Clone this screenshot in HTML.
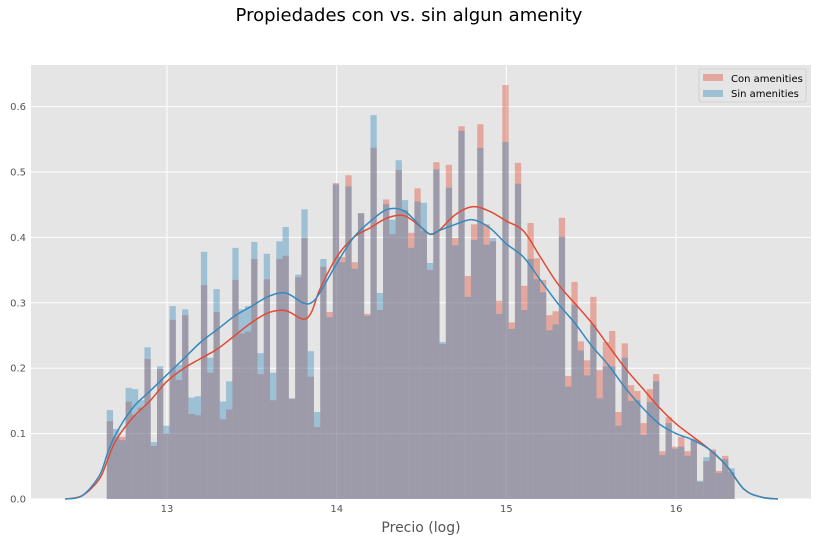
<!DOCTYPE html>
<html><head><meta charset="utf-8"><style>
body{margin:0;background:#fff;}
svg text{font-family:"DejaVu Sans","Liberation Sans",sans-serif;}
</style></head><body>
<svg id="chart" width="818" height="541" xmlns="http://www.w3.org/2000/svg">
<text x="409" y="21" text-anchor="middle" font-size="18" fill="#000">Propiedades con vs. sin algun amenity</text>
<rect x="31" y="65" width="780" height="434" fill="#E5E5E5"/>
<g id="grid"></g>
<g id="bars"></g>
<g id="lines"></g>
<g id="ticks"></g>
<text x="421" y="532" text-anchor="middle" font-size="14" fill="#555">Precio (log)</text>
<g>
<rect x="699" y="69" width="107" height="33" fill="#E5E5E5" stroke="#ccc" stroke-width="0.8" rx="2"/>
<rect x="703" y="74" width="20" height="7" fill="#E24A33" fill-opacity="0.4"/>
<text x="731" y="82" font-size="10" fill="#000">Con amenities</text>
<rect x="703" y="90" width="20" height="7" fill="#348ABD" fill-opacity="0.4"/>
<text x="731" y="97" font-size="10" fill="#000">Sin amenities</text>
</g>
</svg>
<script>
const binStart = 12.645;
const binWidth = 0.037;
const conValues = [.119,.095,.095,.149,.129,.140,.214,.081,.199,.100,
.274,.182,.281,.130,.128,.327,.193,.286,.122,.137,
.335,.253,.256,.367,.191,.336,.151,.367,.372,.153,
.339,.399,.187,.110,.355,.286,.483,.370,.495,.362,
.437,.283,.537,.289,.458,.405,.503,.442,.407,.475,
.410,.350,.515,.237,.511,.399,.570,.341,.420,.573,
.420,.394,.303,.633,.270,.514,.326,.422,.368,.335,
.281,.287,.430,.188,.332,.241,.212,.309,.197,.240,
.257,.133,.238,.174,.165,.116,.168,.191,.073,.125,
.080,.095,.073,.090,.026,.058,.076,.043,.066,.041];
const sinValues = [.136,.107,.090,.170,.168,.151,.232,.087,.203,.112,
.295,.205,.290,.155,.157,.378,.216,.321,.149,.180,
.384,.290,.295,.393,.223,.375,.193,.394,.416,.154,
.343,.443,.226,.133,.367,.278,.481,.362,.478,.352,
.437,.280,.587,.315,.451,.427,.518,.457,.384,.455,
.453,.361,.504,.240,.476,.388,.563,.309,.396,.537,
.389,.399,.283,.546,.260,.482,.289,.367,.336,.316,
.258,.267,.401,.172,.297,.227,.189,.267,.154,.203,
.203,.112,.216,.150,.151,.098,.148,.180,.067,.116,
.077,.080,.066,.092,.028,.064,.073,.040,.061,.047];
const kdeX = [12.4,12.5,12.6,12.65,12.7,12.8,12.9,13.0,13.1,13.2,13.3,13.4,13.5,13.6,13.7,13.8,13.85,13.9,14.0,14.1,14.2,14.3,14.4,14.5,14.55,14.6,14.7,14.8,14.9,15.0,15.1,15.2,15.3,15.4,15.5,15.6,15.7,15.8,15.9,16.0,16.1,16.2,16.3,16.4,16.5,16.6];
const kdeCon = [0,.005,.03,.06,.09,.125,.15,.18,.20,.215,.23,.25,.27,.285,.288,.275,.285,.32,.37,.40,.415,.43,.433,.415,.405,.41,.435,.447,.44,.425,.41,.37,.33,.30,.27,.235,.20,.17,.14,.115,.095,.075,.05,.015,.003,0];
const kdeSin = [0,.005,.035,.07,.10,.14,.165,.19,.215,.24,.26,.28,.295,.31,.315,.30,.30,.315,.36,.40,.425,.443,.44,.415,.405,.41,.42,.427,.415,.39,.37,.335,.30,.27,.235,.205,.17,.14,.115,.10,.09,.075,.05,.015,.003,0];
const xTicks = [13,14,15,16];
const yTicks = [0,0.1,0.2,0.3,0.4,0.5,0.6];
const yTickLabels = ["0.0","0.1","0.2","0.3","0.4","0.5","0.6"];

const NS="http://www.w3.org/2000/svg";
function xs(v){return 167+(v-13)*169.7;}
function ys(v){return 499-v*654;}
function mk(tag,attrs,parent){const e=document.createElementNS(NS,tag);for(const k in attrs)e.setAttribute(k,attrs[k]);parent.appendChild(e);return e;}
const grid=document.getElementById('grid'),bars=document.getElementById('bars'),lines=document.getElementById('lines'),ticks=document.getElementById('ticks');
xTicks.forEach(t=>{
  const l=mk('line',{x1:xs(t),x2:xs(t),y1:65,y2:499,stroke:'#fff','stroke-width':1},grid);
  
  
  const tx=mk('text',{x:xs(t),y:512,'text-anchor':'middle','font-size':10,fill:'#555'},ticks);
  tx.textContent=t;
  
  
});
yTicks.forEach((t,i)=>{
  const l=mk('line',{x1:31,x2:811,y1:ys(t),y2:ys(t),stroke:'#fff','stroke-width':1},grid);
  
  
  const tx=mk('text',{x:26,y:ys(t)+3.5,'text-anchor':'end','font-size':10,fill:'#555'},ticks);
  tx.textContent=yTickLabels[i];
  
  
});
function drawBars(vals,color,name){
  vals.forEach((v,i)=>{
    const x0=xs(binStart+i*binWidth),x1=xs(binStart+(i+1)*binWidth);
    const r=mk('rect',{x:x0,y:ys(v),width:x1-x0,height:ys(0)-ys(v),fill:color,'fill-opacity':0.4},bars);
    
    
  });
}
drawBars(conValues,'#E24A33','bar-con');
drawBars(sinValues,'#348ABD','bar-sin');
function drawLine(vals,color,name){
  const P=kdeX.map((x,i)=>[xs(x),ys(vals[i])]);
  let d='M'+P[0][0].toFixed(1)+','+P[0][1].toFixed(1);
  for(let i=0;i<P.length-1;i++){
    const p0=P[Math.max(0,i-1)],p1=P[i],p2=P[i+1],p3=P[Math.min(P.length-1,i+2)];
    const c1=[p1[0]+(p2[0]-p0[0])/6,p1[1]+(p2[1]-p0[1])/6];
    const c2=[p2[0]-(p3[0]-p1[0])/6,p2[1]-(p3[1]-p1[1])/6];
    d+='C'+c1[0].toFixed(1)+','+c1[1].toFixed(1)+' '+c2[0].toFixed(1)+','+c2[1].toFixed(1)+' '+p2[0].toFixed(1)+','+p2[1].toFixed(1);
  }
  const p=mk('path',{d:d,fill:'none',stroke:color,'stroke-width':1.5,'stroke-linejoin':'round'},lines);
  
  
}
drawLine(kdeCon,'#E24A33','kde-con');
drawLine(kdeSin,'#348ABD','kde-sin');
</script>
</body></html>
